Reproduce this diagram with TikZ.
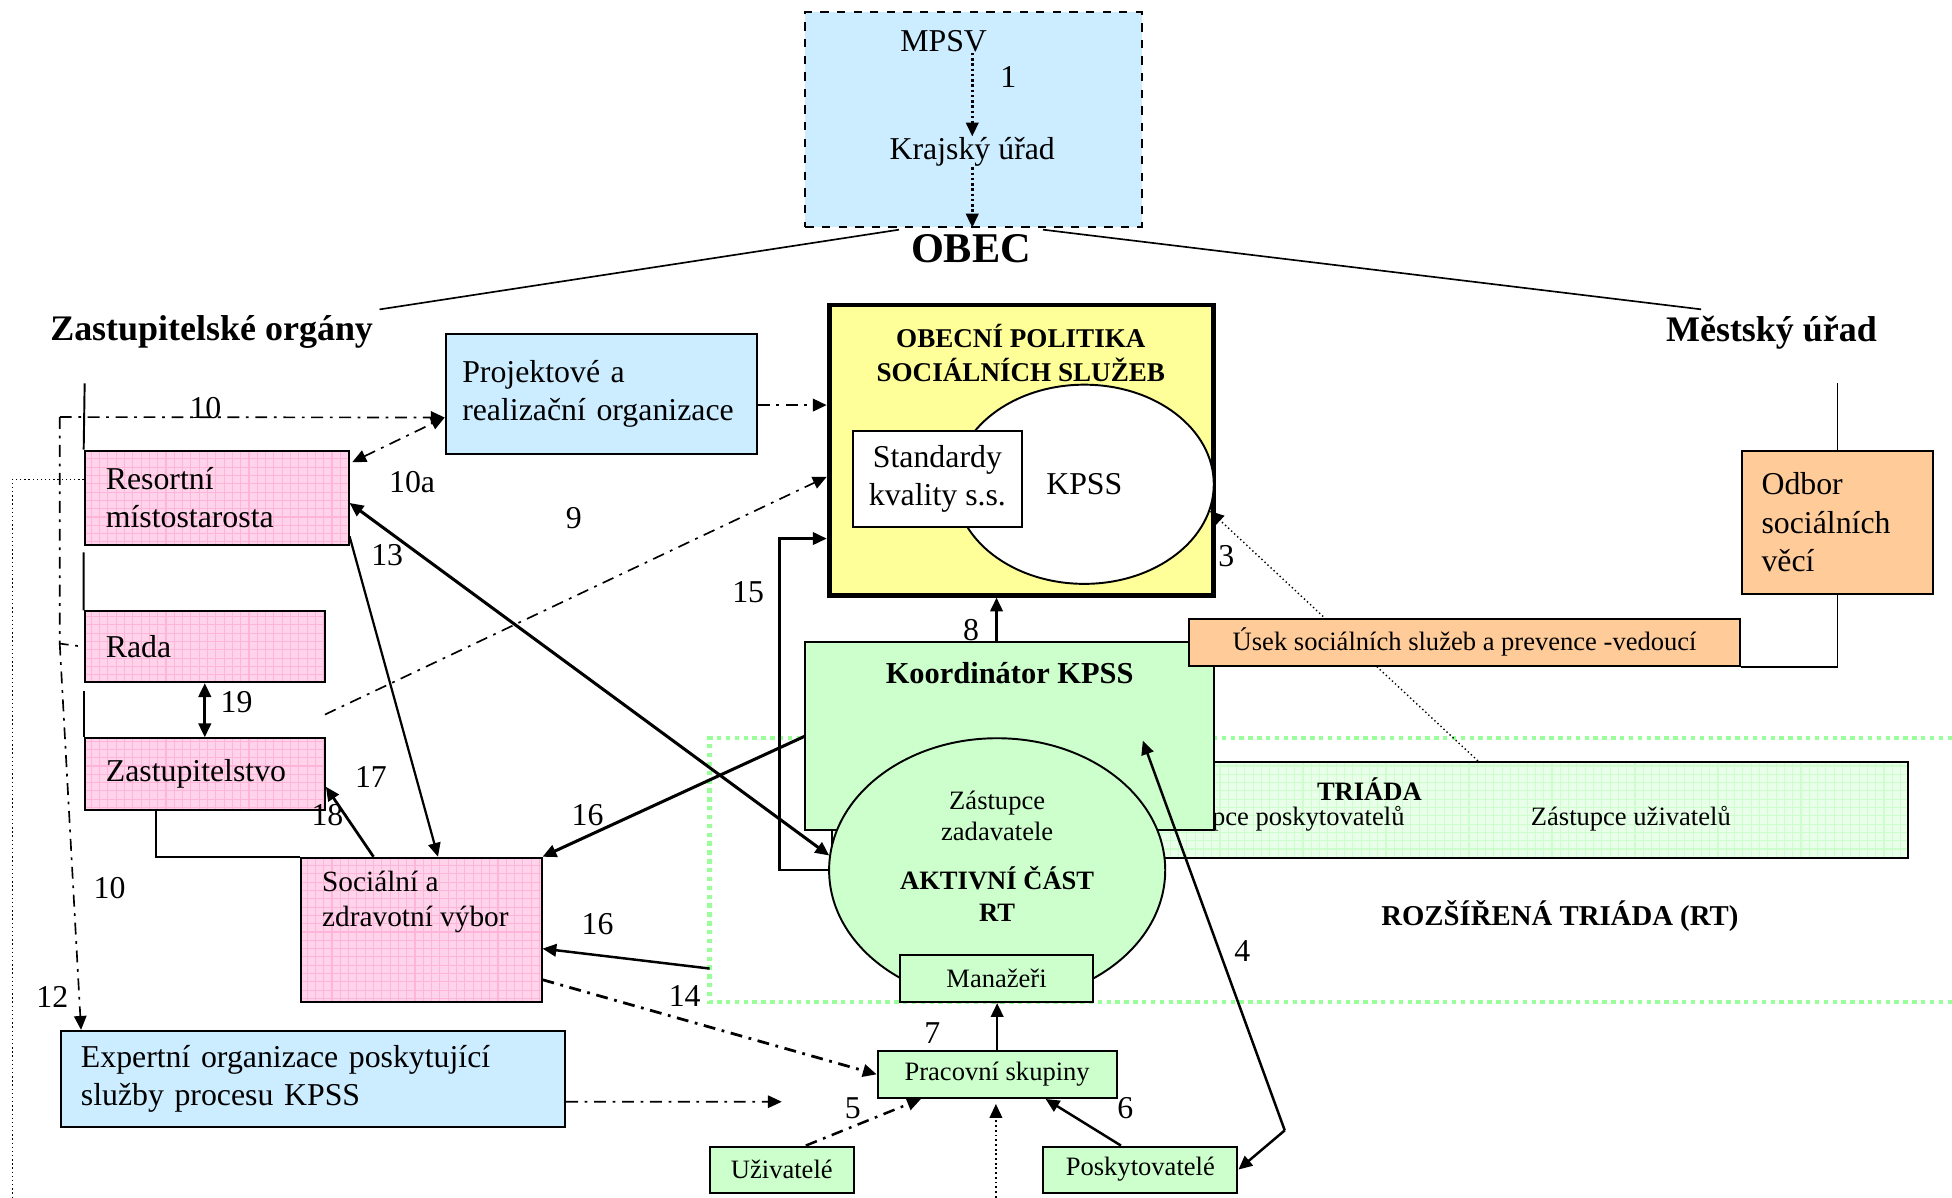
\documentclass[tikz,border=0pt]{standalone}
\usepackage{fontspec}
\setmainfont{Liberation Serif}
\usetikzlibrary{arrows.meta,shapes.geometric,patterns}

\definecolor{skyfill}{RGB}{204,236,255}
\definecolor{polyellow}{RGB}{255,255,153}
\definecolor{rtgreen}{RGB}{204,255,204}
\definecolor{rtlight}{RGB}{234,255,234}
\definecolor{rtframe}{RGB}{153,255,153}
\definecolor{orfill}{RGB}{255,204,153}
\definecolor{pinkfill}{RGB}{255,212,234}
\definecolor{pinkgrid}{RGB}{255,180,218}

\newcommand\fnorm{\fontsize{11.5}{13.8}\selectfont}
\newcommand\fsmall{\fontsize{9.6}{11.3}\selectfont}

\begin{document}
\begin{tikzpicture}[x=0.45pt, y=-0.45pt, line width=0.7pt,
    box/.style={draw, inner sep=0pt, font=\fnorm, align=left},
    skybox/.style={box, fill=skyfill},
    pinkbox/.style={box, preaction={fill=pinkfill}, pattern=grid, pattern color=pinkgrid},
    greenbox/.style={box, fill=rtgreen},
    orbox/.style={box, fill=orfill},
    lbl/.style={inner sep=0pt, font=\fnorm},
    sml/.style={inner sep=0pt, font=\fsmall},
    hd/.style={inner sep=2pt, font=\bfseries\fontsize{13}{15}\selectfont},
    arr/.style={-{Triangle[length=5pt,width=4.5pt]}},
    dblarr/.style={{Triangle[length=5pt,width=4.5pt]}-{Triangle[length=5pt,width=4.5pt]}},
    dashdot/.style={dash pattern=on 4.3pt off 2.4pt on 1pt off 2.4pt}]
    \useasboundingbox (0,0) rectangle (1568,962);

    % MPSV and Krajsky urad
    \node[skybox, dashed, minimum width=121.5pt, minimum height=77.4pt] (mpsvbox) at (782,96) {};
    \node[lbl] (mpsv) at (758,33) {MPSV};
    \node[lbl] (kraj) at (781,122) {Krajský úřad};
    \draw[densely dotted, line width=0.9pt, arr] (mpsv.south -| kraj) -- (kraj.north);
    \draw[densely dotted, line width=0.9pt, arr] (kraj.south) -- (kraj.south |- mpsvbox.south);

    % OBEC
    \node[inner sep=4pt, font=\bfseries\fontsize{15.3}{17}\selectfont] (obec) at (780,200) {OBEC};
    \node[hd] (zorg) at (170,267) {Zastupitelské orgány};
    \node[hd] (murad) at (1423,267) {Městský úřad};
    \draw[line width=0.6pt] (obec.165) -- (zorg.north east);
    \draw[line width=0.6pt] (obec.15) -- ([xshift=15pt]murad.north west);

    % rozsirena triada
    \node[box, preaction={fill=rtlight}, pattern=grid, pattern color=rtgreen,
      minimum width=389.25pt, minimum height=34.65pt] (triada) at (1100.5,650.5) {};
    \node[inner sep=0pt, font=\bfseries\fontsize{9.6}{11.3}\selectfont] (trt) at (1100,634) {TRIÁDA};
    \node[sml, anchor=east] (tposk) at (1129,658) {Zástupce poskytovatelů};
    \node[sml] (tuziv) at (1310,658) {Zástupce uživatelů};
    \draw[rtframe, line width=1.6pt, dash pattern=on 1.6pt off 1.6pt]
      (1568,593) -- (570,593) -- (570,805) -- (1568,805);
    \node[inner sep=0pt, font=\bfseries\fontsize{10.4}{12}\selectfont] (rozt) at (1253,736) {ROZŠÍŘENÁ TRIÁDA (RT)};

    % obecni politika
    \node[box, line width=1.8pt, fill=polyellow, minimum width=139pt, minimum height=104.85pt] (yel) at (820.5,361.5) {};
    \node[box, ellipse, fill=white, minimum width=93.6pt, minimum height=72pt] (kpss) at (871,389) {KPSS};
    \node[inner sep=0pt, align=center, font=\bfseries\fontsize{9.8}{12.2}\selectfont] (pol) at (820,283.5) {OBECNÍ POLITIKA\\SOCIÁLNÍCH SLUŽEB};
    \node[box, fill=white, align=center, minimum width=61.2pt, minimum height=34.65pt] (std) at (753,384.5) {Standardy\\kvality s.s.};
    \draw[densely dotted, line width=0.5pt, arr] ([xshift=39pt]triada.north) -- (kpss.-12);

    % koordinator a aktivni cast
    \node[greenbox, minimum width=147.6pt, minimum height=67.95pt] (koord) at (811,591.5) {};
    \node[inner sep=0pt, font=\bfseries\fontsize{11}{13}\selectfont] (koordt) at (811,541) {Koordinátor KPSS};
    \node[greenbox, ellipse, minimum width=121.5pt, minimum height=95.4pt] (akt) at (801,699) {};
    \node[sml, align=center] (zzad) at (801,655.5) {Zástupce\\zadavatele};
    \node[inner sep=0pt, align=center, font=\bfseries\fontsize{9.6}{11.7}\selectfont] (aktt) at (801,718) {AKTIVNÍ ČÁST\\RT};
    \node[greenbox, font=\fsmall, minimum width=69.75pt, minimum height=17.1pt] (man) at (800.5,786) {Manažeři};
    \node[greenbox, font=\fsmall, minimum width=86.4pt, minimum height=17.1pt] (prac) at (801,863) {Pracovní skupiny};
    \node[greenbox, font=\fsmall, minimum width=52.2pt, minimum height=16.65pt] (uziv) at (628,939.5) {Uživatelé};
    \node[greenbox, font=\fsmall, minimum width=70.2pt, minimum height=16.65pt] (posk) at (916,939.5) {Poskytovatelé};

    % mestsky urad
    \node[orbox, font=\fsmall, minimum width=199.35pt, minimum height=17.1pt] (usek) at (1176.5,516) {Úsek sociálních služeb a prevence -vedoucí};
    \node[orbox, minimum width=69.3pt, minimum height=51.75pt, text width=54.9pt] (odbor) at (1476,419.5) {Odbor\\sociálních\\věcí};
    \coordinate (mt) at (1476,308);
    \draw (mt) -- (odbor.north);
    \draw (odbor.south) |- (usek.south east);

    % zastupitelske organy
    \node[skybox, minimum width=112.5pt, minimum height=43.65pt, text width=100.5pt] (proj) at (483,316.5) {Projektové a\\realizační organizace};
    \node[pinkbox, minimum width=95.4pt, minimum height=34.2pt, text width=80.1pt] (res) at (174,400) {Resortní\\místostarosta};
    \node[pinkbox, minimum width=86.85pt, minimum height=25.65pt, text width=71.55pt] (rada) at (164.5,519.5) {Rada};
    \node[pinkbox, minimum width=86.85pt, minimum height=26.1pt, text width=71.55pt] (zastu) at (164.5,622) {Zastupitelstvo};
    \node[pinkbox, minimum width=86.85pt, minimum height=52.2pt] (soc) at (338.5,747) {};
    \node[inner sep=0pt, anchor=north west, align=left, font=\fontsize{10.6}{12.6}\selectfont] (soct) at (258,699) {Sociální a\\zdravotní výbor};
    \node[skybox, minimum width=182.25pt, minimum height=34.65pt, text width=167.85pt] (exp) at (251.5,866.5) {Expertní organizace poskytující\\služby procesu KPSS};

    \coordinate (zt) at (68,308);
    \draw (zt) -- (res.north west);
    \draw ([yshift=-2.2pt]res.south west) -- (rada.north west);
    \draw ([yshift=-2.7pt]rada.south west) -- (zastu.north west);
    \draw ([xshift=26pt]zastu.south west) |- (soc.north west);

    % vazby
    \draw[line width=0.9pt, arr] (man.north |- koord.north) -- (man.north |- yel.south);
    \draw[line width=0.9pt, arr] (akt.west) -- ++(-39,0) |- ([yshift=-32pt]yel.west);
    \coordinate (k4) at (918,595);
    \coordinate (c4) at (1032,908);
    \draw[line width=0.9pt, arr] (c4) -- (k4);
    \draw[line width=0.9pt, arr] (c4) -- (posk.east);
    \draw[line width=0.9pt, arr] (prac.north) -- (prac.north |- man.south);
    \draw[dashdot, line width=0.9pt, arr] (uziv.45) -- ([xshift=16pt]prac.south west);
    \draw[line width=0.9pt, arr] ([xshift=-7pt]posk.north) -- ([xshift=17.5pt]prac.south);
    \coordinate (bt) at (800,962);
    \draw[densely dotted, arr] (bt) -- ([yshift=-1.8pt]bt |- prac.south);

    \draw[dashdot, line width=0.9pt, arr] ([yshift=-4pt]proj.east) -- ([yshift=-4pt]proj.east -| yel.west);
    \coordinate (c9) at (261,574);
    \draw[dashdot, line width=0.6pt, arr] (c9) -- ([yshift=-9.7pt]yel.west);
    \coordinate (pj) at ([yshift=-8.5pt]proj.west);
    \coordinate (l10) at (48,335);
    \coordinate (r10) at (48,517);
    \draw[dashdot, line width=0.6pt, arr] (l10) -- (pj);
    \draw[dashdot, line width=0.6pt] (l10) -- (r10) -- (rada.west);
    \draw[dashdot, line width=0.6pt, arr] (r10) -- ([xshift=7.6pt]exp.north west);
    \draw[dashdot, line width=0.6pt, dblarr] ([xshift=1pt,yshift=-4.5pt]res.north east) -- (pj);
    \coordinate (bl) at (10,962);
    \draw[densely dotted, line width=0.5pt] ([yshift=6.75pt]res.west) -| (bl);

    \draw[line width=0.8pt, arr] ([yshift=3.6pt]res.south east) -- ([xshift=6pt]soc.north);
    \draw[line width=1.1pt, dblarr] ([yshift=-1.8pt]res.east) -- (akt.175);
    \draw[line width=1.1pt, arr] (koord.west) -- (soc.north east);
    \coordinate (c16) at (570,778);
    \draw[line width=0.9pt, arr] (c16) -- ([yshift=-6.75pt]soc.east);
    \draw[dashdot, line width=1pt, arr] ([yshift=-18pt]soc.east) -- (prac.west);
    \draw[line width=1pt, arr] ([xshift=-17.3pt]soc.north) -- ([yshift=-4.5pt]zastu.east);
    \draw[line width=1pt, dblarr] (rada.south) -- (zastu.north);
    \coordinate (e14) at (628,885);
    \draw[dashdot, line width=0.6pt, arr] ([yshift=-8.3pt]exp.east) -- (e14);

    % cisla vazeb
    \foreach \n/\x/\y/\t in {l1/810/62/1, l3/985/447/3, l4/998/764/4, l5/685/890/5,
        l6/904/890/6, l7/749/830/7, l8/780/506/8, l9/461/416/9, l10a/165/328/10,
        l10b/331/387/10a, l10c/88/713/10, l12/42/801/12, l13/311/446/13,
        l14/550/800/14, l15/601/476/15, l16a/472/655/16, l16b/480/742/16,
        l17/298/624/17, l18/263/655/18, l19/190/564/19}
      \node[lbl] (\n) at (\x,\y) {\t};
\end{tikzpicture}
\end{document}
